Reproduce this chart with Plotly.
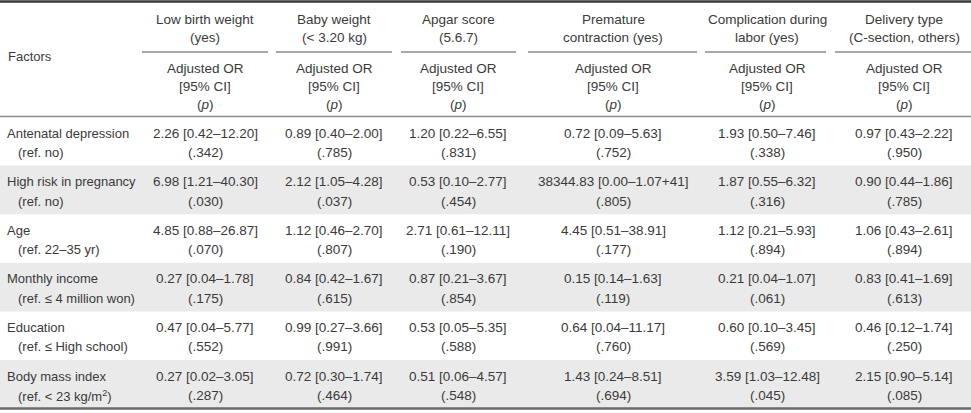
import plotly.graph_objects as go

# ---------------- data ----------------
factor_names = ["Antenatal depression", "High risk in pregnancy", "Age",
                "Monthly income", "Education", "Body mass index"]
factor_refs = ["(ref. no)", "(ref. no)", "(ref. 22–35 yr)",
               "(ref. ≤ 4 million won)", "(ref. ≤ High school)",
               "(ref. < 23 kg/m<sup>2</sup>)"]

outcome_line1 = ["Low birth weight", "Baby weight", "Apgar score",
                 "Premature", "Complication during", "Delivery type"]
outcome_line2 = ["(yes)", "(< 3.20 kg)", "(5.6.7)",
                 "contraction (yes)", "labor (yes)", "(C-section, others)"]
sub_header = ["Adjusted OR", "[95% CI]", "(<i>p</i>)"]

or_low_birth_weight = ["2.26 [0.42–12.20]", "6.98 [1.21–40.30]", "4.85 [0.88–26.87]",
                       "0.27 [0.04–1.78]", "0.47 [0.04–5.77]", "0.27 [0.02–3.05]"]
p_low_birth_weight = ["(.342)", "(.030)", "(.070)", "(.175)", "(.552)", "(.287)"]

or_baby_weight = ["0.89 [0.40–2.00]", "2.12 [1.05–4.28]", "1.12 [0.46–2.70]",
                  "0.84 [0.42–1.67]", "0.99 [0.27–3.66]", "0.72 [0.30–1.74]"]
p_baby_weight = ["(.785)", "(.037)", "(.807)", "(.615)", "(.991)", "(.464)"]

or_apgar = ["1.20 [0.22–6.55]", "0.53 [0.10–2.77]", "2.71 [0.61–12.11]",
            "0.87 [0.21–3.67]", "0.53 [0.05–5.35]", "0.51 [0.06–4.57]"]
p_apgar = ["(.831)", "(.454)", "(.190)", "(.854)", "(.588)", "(.548)"]

or_premature = ["0.72 [0.09–5.63]", "38344.83 [0.00–1.07+41]", "4.45 [0.51–38.91]",
                "0.15 [0.14–1.63]", "0.64 [0.04–11.17]", "1.43 [0.24–8.51]"]
p_premature = ["(.752)", "(.805)", "(.177)", "(.119)", "(.760)", "(.694)"]

or_complication = ["1.93 [0.50–7.46]", "1.87 [0.55–6.32]", "1.12 [0.21–5.93]",
                   "0.21 [0.04–1.07]", "0.60 [0.10–3.45]", "3.59 [1.03–12.48]"]
p_complication = ["(.338)", "(.316)", "(.894)", "(.061)", "(.569)", "(.045)"]

or_delivery = ["0.97 [0.43–2.22]", "0.90 [0.44–1.86]", "1.06 [0.43–2.61]",
               "0.83 [0.41–1.69]", "0.46 [0.12–1.74]", "2.15 [0.90–5.14]"]
p_delivery = ["(.950)", "(.785)", "(.894)", "(.613)", "(.250)", "(.085)"]

or_columns = [or_low_birth_weight, or_baby_weight, or_apgar,
              or_premature, or_complication, or_delivery]
p_columns = [p_low_birth_weight, p_baby_weight, p_apgar,
             p_premature, p_complication, p_delivery]

# ---------------- layout / style ----------------
W, H = 971, 413
FONT = "Liberation Sans, Arial, sans-serif"
TXT = "#3a3a3a"
FS_LEFT = 13
FS = 13.5
col_center = [205, 334, 458, 613, 767, 904]
col_span = [(142, 268), (276, 392), (401, 516), (528, 697), (705, 826), (835, 971)]
row_top0 = 117.0
row_h = 48.6
shade = "#eaeaea"

fig = go.Figure()
fig.add_trace(go.Scatter(x=[0, W], y=[0, H], mode="markers",
                         marker=dict(opacity=0), hoverinfo="skip", showlegend=False))

shapes = []
ann = []

def text(x, y, s, xanchor="center", size=FS):
    ann.append(dict(x=x, y=y, xref="x", yref="y", text=s, showarrow=False,
                    xanchor=xanchor, yanchor="middle",
                    font=dict(family=FONT, size=size, color=TXT)))

# row shading
n_rows = len(factor_names)
for i in range(n_rows):
    top = row_top0 + i * row_h
    if i % 2 == 1:
        shapes.append(dict(type="rect", xref="x", yref="y", x0=0, x1=W,
                           y0=top, y1=top + row_h, fillcolor=shade,
                           line=dict(width=0), layer="below"))

# rules
shapes.append(dict(type="line", xref="x", yref="y", x0=0, x1=W, y0=1.5, y1=1.5,
                   line=dict(color="#3a3a3a", width=2.5)))
shapes.append(dict(type="line", xref="x", yref="y", x0=0, x1=W, y0=116.5, y1=116.5,
                   line=dict(color="#8c8c8c", width=1.5)))
bottom = row_top0 + n_rows * row_h
shapes.append(dict(type="line", xref="x", yref="y", x0=0, x1=W,
                   y0=bottom, y1=bottom,
                   line=dict(color="#6a6a6a", width=2.5)))
for (a, b) in col_span:
    shapes.append(dict(type="line", xref="x", yref="y", x0=a, x1=b, y0=52, y1=52,
                       line=dict(color="#8c8c8c", width=1.5)))

# header text
text(6, 56, "Factors", "left", FS_LEFT)
for j, c in enumerate(col_center):
    text(c, 19.5, outcome_line1[j])
    text(c, 37.5, outcome_line2[j])
    text(c, 68, sub_header[0])
    text(c, 86, sub_header[1])
    text(c, 104, sub_header[2])

# body text
for i in range(n_rows):
    top = row_top0 + i * row_h
    text(5, top + 16, factor_names[i], "left", FS_LEFT)
    text(16, top + 35.5, factor_refs[i], "left", FS_LEFT)
    for j, c in enumerate(col_center):
        text(c, top + 16, or_columns[j][i])
        text(c, top + 35.5, p_columns[j][i])

fig.update_layout(
    width=W, height=H, margin=dict(l=0, r=0, t=0, b=0),
    paper_bgcolor="white", plot_bgcolor="white",
    xaxis=dict(range=[0, W], visible=False, fixedrange=True),
    yaxis=dict(range=[H, 0], visible=False, fixedrange=True),
    shapes=shapes, annotations=ann, showlegend=False,
)
fig.write_html("out.html", config={"displayModeBar": False},
               post_script="document.body.style.margin='0';document.body.style.overflow='hidden';")
